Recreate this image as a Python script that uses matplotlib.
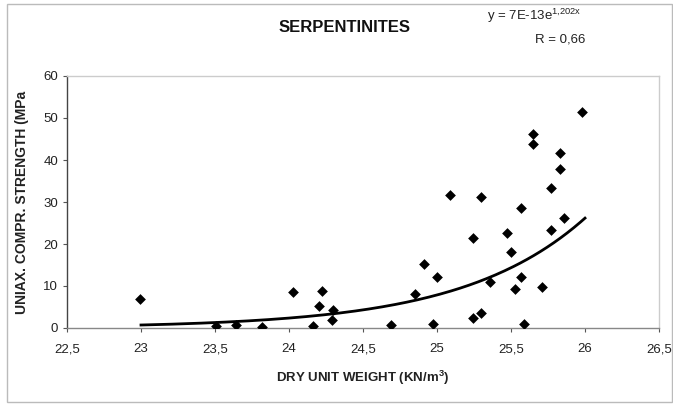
import matplotlib
matplotlib.use("Agg")
import matplotlib.pyplot as plt
import numpy as np
from matplotlib.patches import Rectangle

plt.rcParams['font.family'] = ['Liberation Sans', 'DejaVu Sans']
plt.rcParams['mathtext.fontset'] = 'custom'
plt.rcParams['mathtext.rm'] = 'Liberation Sans'
plt.rcParams['mathtext.it'] = 'Liberation Sans'
plt.rcParams['mathtext.bf'] = 'Liberation Sans:bold'

# Data
dry_unit_weight = [22.99, 23.51, 23.64, 23.82, 24.03, 24.22, 24.20, 24.16, 24.30, 24.29,
                   24.69, 24.85, 24.91, 24.97, 25.00, 25.09, 25.24, 25.24, 25.30, 25.30,
                   25.36, 25.47, 25.50, 25.53, 25.57, 25.57, 25.59, 25.65, 25.65, 25.71,
                   25.77, 25.77, 25.83, 25.83, 25.86, 25.98]
ucs = [6.9, 0.5, 0.7, 0.2, 8.6, 8.7, 5.3, 0.5, 4.4, 1.9,
       0.7, 8.2, 15.3, 0.95, 12.2, 31.7, 2.4, 21.5, 31.2, 3.5,
       11.0, 22.6, 18.1, 9.3, 12.2, 28.6, 0.9, 46.1, 43.7, 9.7,
       33.3, 23.3, 41.7, 37.9, 26.2, 51.5]

# Trendline coefficients as displayed on the chart
trend_a = 7e-13
trend_b = 1.202
trend_range = [23.0, 26.0]

x_ticks = [22.5, 23, 23.5, 24, 24.5, 25, 25.5, 26, 26.5]
x_tick_labels = ["22,5", "23", "23,5", "24", "24,5", "25", "25,5", "26", "26,5"]
y_ticks = [0, 10, 20, 30, 40, 50, 60]
y_tick_labels = ["0", "10", "20", "30", "40", "50", "60"]

fig = plt.figure(figsize=(6.73, 4.04), dpi=100)
fig.patches.append(Rectangle((7/673, 2/404), 665/673, 398/404, transform=fig.transFigure,
                             fill=False, edgecolor='#bbbbbb', linewidth=1.0))

ax = fig.add_axes([67/673, 1 - 328/404, (659 - 67)/673, (328 - 76)/404])
ax.scatter(dry_unit_weight, ucs, marker='D', s=30, color='black', zorder=3, linewidths=0)

xt = np.linspace(trend_range[0], trend_range[1], 200)
ax.plot(xt, trend_a * np.exp(trend_b * xt), color='black', linewidth=2.0, zorder=2)

ax.set_xlim(22.5, 26.5)
ax.set_ylim(0, 60)
ax.set_xticks(x_ticks)
ax.set_xticklabels(x_tick_labels, fontsize=9.5)
ax.set_yticks(y_ticks)
ax.set_yticklabels(y_tick_labels, fontsize=9.5)
ax.tick_params(axis='both', length=3, width=0.8, colors='#555555', labelcolor='#222222')
ax.tick_params(axis='x', pad=8)

ax.spines['left'].set_color('#444444')
ax.spines['bottom'].set_color('#888888')
ax.spines['top'].set_color('#cccccc')
ax.spines['right'].set_color('#cccccc')
for s in ax.spines.values():
    s.set_linewidth(1.0)

ax.set_ylabel("UNIAX. COMPR. STRENGTH (MPa", fontsize=10, fontweight='bold', color='#222222', labelpad=10)
ax.set_xlabel("DRY UNIT WEIGHT (KN/m$^{\\mathbf{3}}$)", fontsize=9.5, fontweight='bold', color='#222222', labelpad=10)

fig.text(345/673, 1 - 28/404, "SERPENTINITES", fontsize=12, fontweight='bold',
         ha='center', va='center', color='#111111')
fig.text(487/673, 1 - 16/404, "y = 7E-13e$^{\\mathrm{1{,}202x}}$", fontsize=9.5, ha='left', va='center', color='#222222')
fig.text(585/673, 1 - 39/404, "R = 0,66", fontsize=9.5, ha='right', va='center', color='#222222')

fig.savefig("out.png", dpi=100)
